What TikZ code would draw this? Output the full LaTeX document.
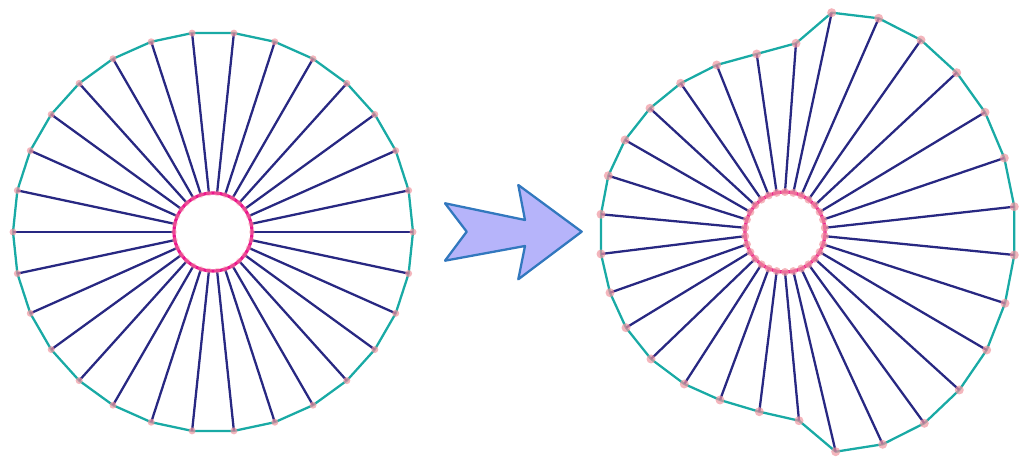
\documentclass[tikz,border=0pt]{standalone}
\usepackage{xcolor}
\usepackage{tikz}
\definecolor{spokecolor}{RGB}{40,40,130}
\definecolor{rimcolor}{RGB}{25,170,165}
\definecolor{hubcolor}{RGB}{235,20,140}
\definecolor{jointcolor}{RGB}{240,150,160}
\definecolor{arrowfill}{RGB}{182,180,250}
\definecolor{arrowline}{RGB}{50,120,190}

\begin{document}
\begin{tikzpicture}[
    x=0.02cm, y=0.02cm,
    spoke/.style={draw=spokecolor, line width=1.3pt},
    rim/.style={draw=rimcolor, line width=1.3pt, line join=round},
    hub/.style={draw=hubcolor, line width=1.8pt},
    joint/.style={fill=jointcolor, fill opacity=0.7},
    bigarrow/.style={fill=arrowfill, draw=arrowline, line width=1.3pt, line join=round}
]
\useasboundingbox (0,0) rectangle (1019,462);

% left wheel, undeformed
\coordinate (lc) at (213,230);
\foreach \k in {1,...,30} {
    \coordinate (lo\k) at ([shift={({12*(\k-1)}:200)}]lc);
    \coordinate (li\k) at ([shift={({12*(\k-1)}:39)}]lc);
}
\draw[rim] (lo1) \foreach \k in {2,...,30} { -- (lo\k) } -- cycle;
\foreach \k in {1,...,30} \draw[spoke] (li\k) -- (lo\k);
\draw[hub] (lc) circle (39);
\foreach \k in {1,...,30} {
    \fill[joint] (lo\k) circle (3.5);
    \fill[joint, fill opacity=0.4] (li\k) circle (3);
}

% arrow
\coordinate (a1) at (445,258.7);
\coordinate (a2) at (525,242);
\coordinate (a3) at (518.3,277);
\coordinate (a4) at (581.7,230.3);
\coordinate (a5) at (518.3,182.7);
\coordinate (a6) at (525,216);
\coordinate (a7) at (445,201.3);
\coordinate (a8) at (466.7,230.3);
\draw[bigarrow] (a1) -- (a2) -- (a3) -- (a4) -- (a5) -- (a6) -- (a7) -- (a8) -- cycle;

% right wheel, deformed
\coordinate (rc) at (785,230);
\foreach \x/\y [count=\k] in {831.7/449.3, 878.7/443.7, 921/422, 956.7/389.3,
    985/349.7, 1004.3/304, 1014.3/255.3, 1014.3/207, 1005/158.7, 986.7/112,
    959.3/72, 924.3/38.7, 882.7/17.7, 835.7/10.3, 799/41.3, 759.3/50.3,
    720/62, 684.3/78, 651/103, 626/134.3, 610/169.3, 601/208, 601/247.7,
    608.3/286.3, 625/322, 650/353.7, 680.7/378.7, 716.7/397, 756.7/408, 796/418.7} {
    \coordinate (ro\k) at (\x,\y);
    \coordinate (ri\k) at ([shift={({6+12*(7-\k)}:40)}]rc);
}
\draw[rim] (ro1) \foreach \k in {2,...,30} { -- (ro\k) } -- cycle;
\foreach \k in {1,...,30} \draw[spoke] (ri\k) -- (ro\k);
\draw[hub] (rc) circle (40);
\foreach \k in {1,...,30} {
    \fill[joint] (ro\k) circle (4.5);
    \fill[joint] (ri\k) circle (4);
}
\end{tikzpicture}
\end{document}
